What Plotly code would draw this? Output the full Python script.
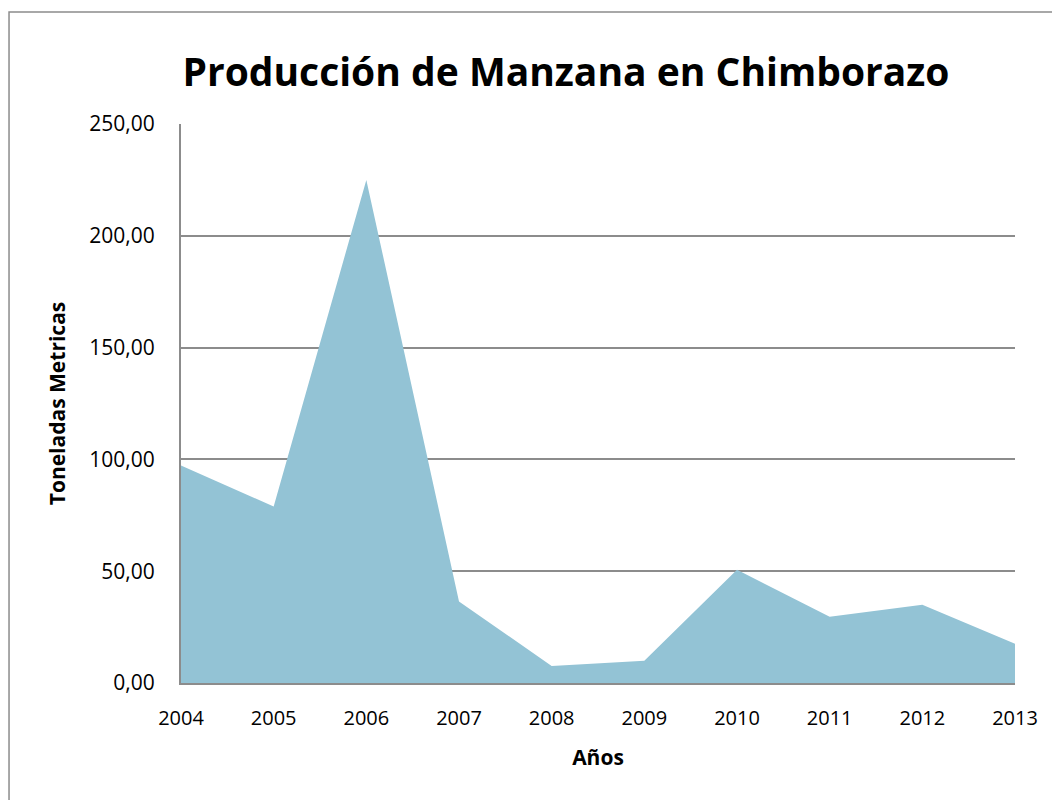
import plotly.graph_objects as go

years = [2004, 2005, 2006, 2007, 2008, 2009, 2010, 2011, 2012, 2013]
produccion = [97.3, 78.9, 225.0, 36.5, 7.6, 9.9, 50.6, 29.6, 35.0, 17.6]
y_ticks = [0, 50, 100, 150, 200, 250]

fig = go.Figure()
fig.add_trace(go.Scatter(
    x=years, y=produccion, mode="lines", fill="tozeroy",
    line=dict(width=0, color="#93C3D5"), fillcolor="#93C3D5",
    hoverinfo="x+y", showlegend=False,
))

font_family = "Open Sans, Liberation Sans, sans-serif"

fig.update_layout(
    width=1060, height=800,
    margin=dict(l=173, r=53, t=116, b=125),
    paper_bgcolor="white", plot_bgcolor="white",
    separators=",.",
    font=dict(family=font_family, color="black", size=20),
    title=dict(text="<b>Producción de Manzana en Chimborazo</b>",
               x=0.5264, xanchor="center", y=0.92, yanchor="middle",
               font=dict(size=39, family=font_family, color="black")),
    xaxis=dict(range=[2004, 2013], tickmode="array", tickvals=years,
               ticktext=[str(y) for y in years],
               showgrid=False, zeroline=False, showline=True,
               linecolor="#8c8c8c", linewidth=2, ticks="",
               ticklabelstandoff=16,
               tickfont=dict(size=20),
               title=dict(text="<b>Años</b>", font=dict(size=21), standoff=20)),
    yaxis=dict(range=[0, 250], tickmode="array", tickvals=y_ticks,
               tickformat=".2f", showgrid=True, gridcolor="#8c8c8c",
               gridwidth=1.5, zeroline=False, showline=True,
               linecolor="#8c8c8c", linewidth=2, ticks="",
               ticklabelstandoff=20,
               tickfont=dict(size=21),
               title=dict(text="<b>Toneladas Metricas</b>", font=dict(size=21), standoff=18)),
    shapes=[dict(type="rect", xref="paper", yref="paper",
                 x0=-0.2062, x1=1.1, y0=-0.25, y1=1.2004,
                 line=dict(color="#8c8c8c", width=1.5), fillcolor="rgba(0,0,0,0)",
                 layer="below")],
)

fig.write_html("out.html")
